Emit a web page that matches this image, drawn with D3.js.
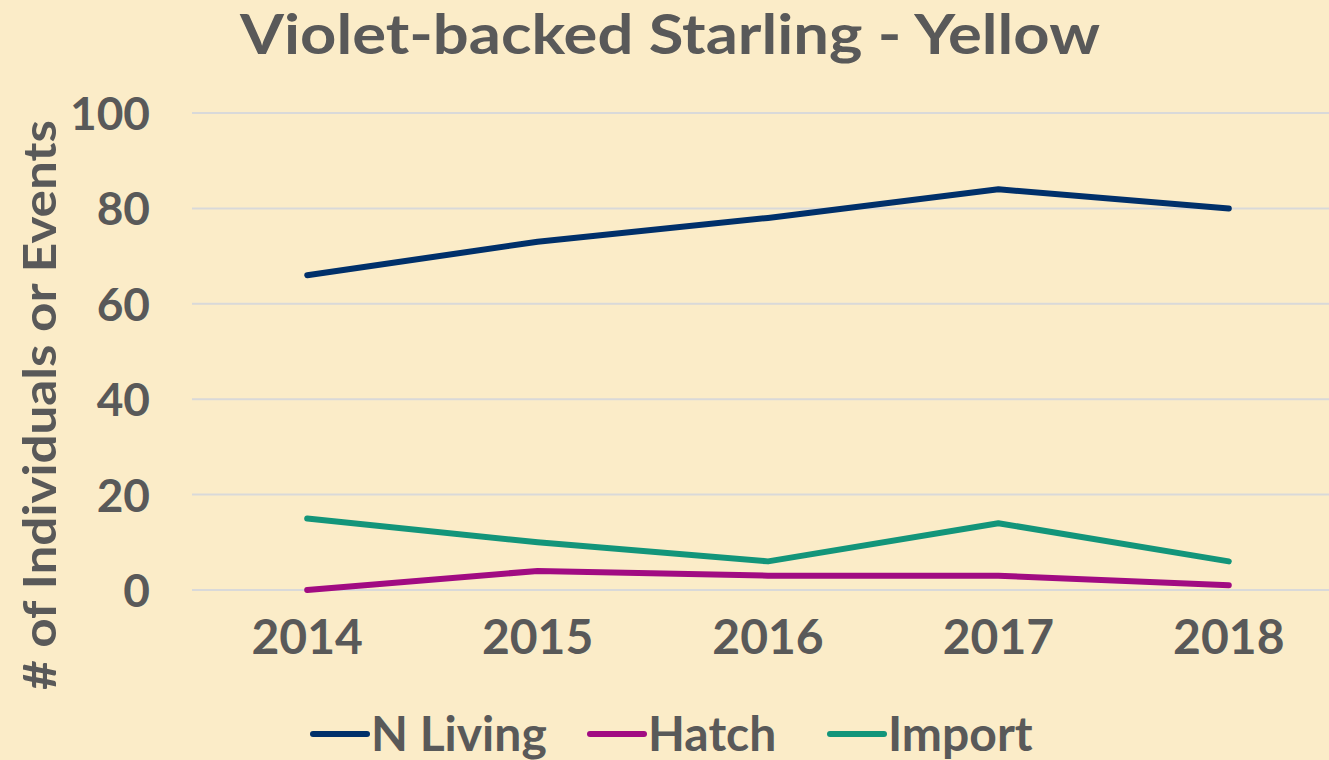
<!DOCTYPE html>
<meta charset="utf-8">
<script src="https://d3js.org/d3.v7.min.js"></script>
<style>
body { margin: 0; background: #FBECC8; }
text { font-family: Lato, "Open Sans", sans-serif; font-weight: bold; fill: #595959; }
.grid line { stroke: #D9D9D9; stroke-width: 2; }
</style>
<body>
<script>
// chart data
var years = ["2014", "2015", "2016", "2017", "2018"];
var nLiving = [66, 73, 78, 84, 80];
var hatch = [0, 4, 3, 3, 1];
var importCount = [15, 10, 6, 14, 6];
var yTicks = [0, 20, 40, 60, 80, 100];

var series = [
  {name: "N Living", values: nLiving, color: "#00306A"},
  {name: "Hatch", values: hatch, color: "#A10B82"},
  {name: "Import", values: importCount, color: "#13957A"}
];

var width = 1329, height = 760;

var svg = d3.select("body").append("svg")
    .attr("width", width)
    .attr("height", height);

var x = d3.scaleBand().domain(years).range([192, 1344]);
var y = d3.scaleLinear().domain([0, 100]).range([590, 113]);

// gridlines
svg.append("g")
    .attr("class", "grid")
    .selectAll("line")
    .data(yTicks)
    .enter().append("line")
    .attr("x1", 192)
    .attr("x2", width)
    .attr("y1", function(d) { return y(d); })
    .attr("y2", function(d) { return y(d); });

// y axis labels
var yAxis = svg.append("g")
    .attr("transform", "translate(150,0)")
    .call(d3.axisLeft(y).tickValues(yTicks).tickSize(0).tickPadding(0));
yAxis.select(".domain").remove();
yAxis.selectAll("text")
    .attr("dy", "0.36em")
    .style("font-size", "46px")
    .attr("fill", "#595959");

// x axis labels
var xAxis = svg.append("g")
    .attr("transform", "translate(0,637)")
    .call(d3.axisBottom(x).tickSize(0).tickPadding(0));
xAxis.select(".domain").remove();
xAxis.selectAll("text")
    .attr("dy", "0.36em")
    .style("font-size", "48px")
    .attr("fill", "#595959");

// lines
var line = d3.line()
    .x(function(d, i) { return x(years[i]) + x.bandwidth() / 2; })
    .y(function(d) { return y(d); });

svg.selectAll(".series")
    .data(series)
    .enter().append("path")
    .attr("class", "series")
    .attr("d", function(d) { return line(d.values); })
    .attr("fill", "none")
    .attr("stroke", function(d) { return d.color; })
    .attr("stroke-width", 6)
    .attr("stroke-linejoin", "round")
    .attr("stroke-linecap", "round");

// title
svg.append("text")
    .attr("x", 670)
    .attr("y", 54)
    .attr("text-anchor", "middle")
    .attr("textLength", 860)
    .attr("lengthAdjust", "spacingAndGlyphs")
    .style("font-size", "55px")
    .text("Violet-backed Starling - Yellow");

// y axis title
svg.append("text")
    .attr("transform", "translate(56,405) rotate(-90)")
    .attr("text-anchor", "middle")
    .attr("textLength", 570)
    .attr("lengthAdjust", "spacingAndGlyphs")
    .style("font-size", "46px")
    .text("# of Individuals or Events");

// legend
var legendX = [313, 590, 830];
var legend = svg.selectAll(".legend")
    .data(series)
    .enter().append("g")
    .attr("class", "legend")
    .attr("transform", function(d, i) { return "translate(" + legendX[i] + ",734)"; });

legend.append("line")
    .attr("x1", 0).attr("x2", 54)
    .attr("stroke", function(d) { return d.color; })
    .attr("stroke-width", 6)
    .attr("stroke-linecap", "round");

legend.append("text")
    .attr("x", 58)
    .attr("dy", "0.36em")
    .style("font-size", "48px")
    .text(function(d) { return d.name; });
</script>
</body>
